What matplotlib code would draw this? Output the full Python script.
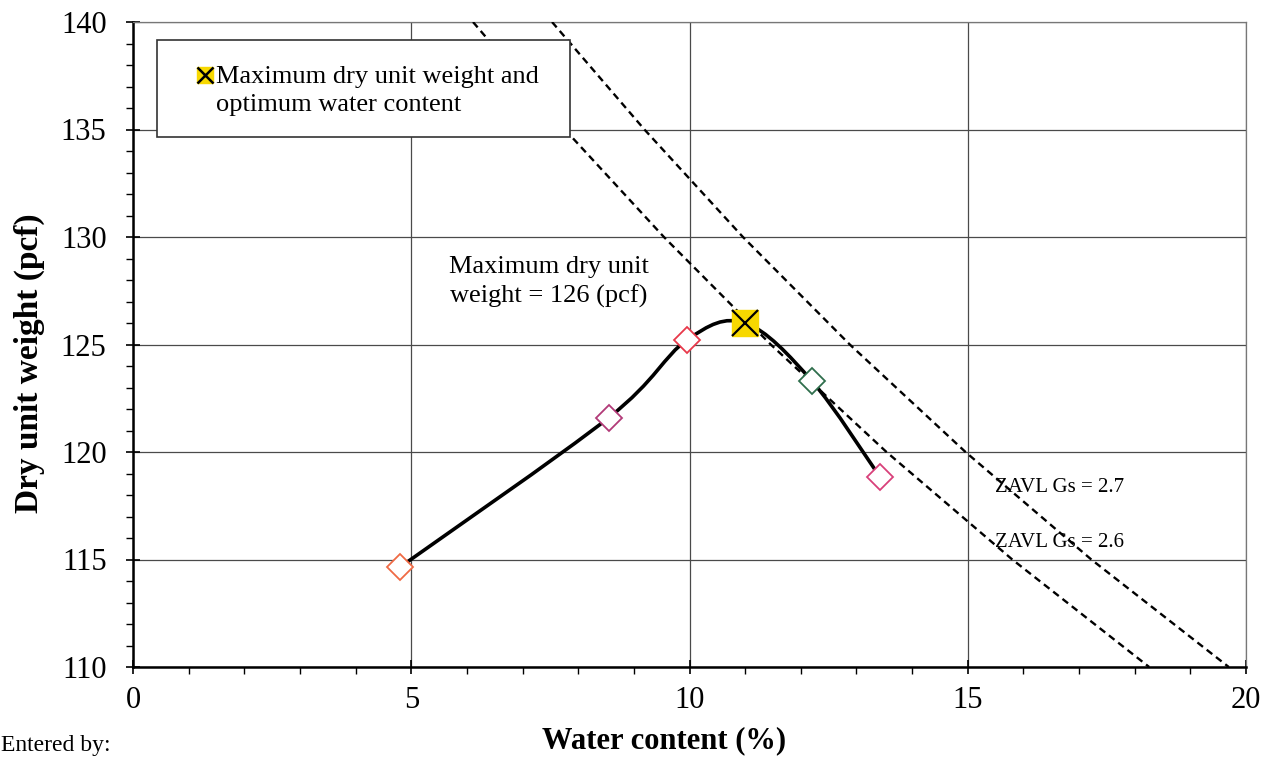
import numpy as np
import matplotlib
matplotlib.use('Agg')
import matplotlib.pyplot as plt
from matplotlib.path import Path
from matplotlib.patches import PathPatch, Rectangle
from matplotlib.ticker import MultipleLocator

plt.rcParams['font.family'] = ['Liberation Serif', 'DejaVu Serif']

# compaction test points (water content %, dry unit weight pcf)
water_content = [4.8, 8.55, 9.95, 12.2, 13.42]
dry_unit_weight = [114.65, 121.6, 125.2, 123.3, 118.85]
point_colors = ['#ef6a45', '#b23a78', '#e8384a', '#2f6e4c', '#d8407a']

# maximum dry unit weight / optimum water content
w_opt = 11.0
gd_max = 126.0

# zero air void lines
zavl_gd = [140, 135, 130, 125, 120, 115, 110]
zavl_w_26 = [6.11, 7.76, 9.54, 11.46, 13.54, 15.80, 18.26]
zavl_w_27 = [7.53, 9.19, 10.96, 12.88, 14.96, 17.22, 19.69]


def smooth_path(xs, ys):
    # Catmull-Rom style bezier, like a spreadsheet "smoothed line"
    pts = np.column_stack([xs, ys])
    n = len(pts)
    verts = [pts[0]]
    codes = [Path.MOVETO]
    for i in range(n - 1):
        p0 = pts[i - 1] if i > 0 else pts[i]
        p1 = pts[i]
        p2 = pts[i + 1]
        p3 = pts[i + 2] if i + 2 < n else pts[i + 1]
        c1 = p1 + (p2 - p0) / 6.0
        c2 = p2 - (p3 - p1) / 6.0
        verts += [c1, c2, p2]
        codes += [Path.CURVE4] * 3
    return Path(verts, codes)


W, H = 1278, 759
fig = plt.figure(figsize=(W / 100, H / 100), dpi=100)
ax = fig.add_axes([133 / W, 1 - 667 / H, (1246 - 133) / W, (667 - 22) / H])

ax.set_xlim(0, 20)
ax.set_ylim(110, 140)
ax.xaxis.set_major_locator(MultipleLocator(5))
ax.xaxis.set_minor_locator(MultipleLocator(1))
ax.yaxis.set_major_locator(MultipleLocator(5))
ax.yaxis.set_minor_locator(MultipleLocator(1))
ax.grid(True, which='major', color='#4a4a4a', linewidth=0.9)
ax.set_axisbelow(True)

for side in ['top', 'right']:
    ax.spines[side].set_color('#777777')
    ax.spines[side].set_linewidth(0.9)
for side in ['left', 'bottom']:
    ax.spines[side].set_linewidth(1.8)

ax.tick_params(which='major', direction='inout', length=10, width=1.2, labelsize=22)
ax.tick_params(axis='y', which='major', pad=14)
ax.tick_params(axis='x', which='major', pad=9)
ax.tick_params(which='minor', direction='out', length=5, width=1.0)
ax.tick_params(top=False, right=False, which='both')

fig.text(664 / W, 1 - 741 / H, 'Water content (%)', fontsize=22, fontweight='bold',
         ha='center', va='center')
fig.text(29 / W, 1 - 363 / H, 'Dry unit weight (pcf)', fontsize=24, fontweight='bold',
         ha='center', va='center', rotation=90)

# ZAVL lines
ax.plot(zavl_w_26, zavl_gd, color='black', linestyle=(0, (3, 2)), linewidth=1.7, zorder=3)
ax.plot(zavl_w_27, zavl_gd, color='black', linestyle=(0, (3, 2)), linewidth=1.7, zorder=3)

# compaction curve through the points and the maximum
curve_x = water_content[:3] + [w_opt] + water_content[3:]
curve_y = dry_unit_weight[:3] + [gd_max] + dry_unit_weight[3:]
ax.add_patch(PathPatch(smooth_path(curve_x, curve_y), facecolor='none',
                       edgecolor='black', linewidth=2.6, zorder=4))

for x, y, c in zip(water_content, dry_unit_weight, point_colors):
    ax.plot(x, y, marker='D', markersize=13, markerfacecolor='white',
            markeredgecolor=c, markeredgewidth=1.3, zorder=5)

ax.plot(w_opt, gd_max, marker='s', markersize=19, markerfacecolor='#f7d800',
        markeredgecolor='#f7d800', zorder=6)
ax.plot(w_opt, gd_max, marker='x', markersize=19, color='black',
        markeredgewidth=1.6, zorder=7)

# legend-like box
box = Rectangle((157 / W, 1 - 137 / H), (570 - 157) / W, (137 - 40) / H,
                transform=fig.transFigure, facecolor='white', edgecolor='#333333',
                linewidth=1.2, zorder=8)
fig.patches.append(box)
fig.lines.append(plt.Line2D([205 / W], [1 - 75 / H], transform=fig.transFigure,
                            marker='s', markersize=11, color='#f7d800', linestyle='none',
                            zorder=9))
fig.lines.append(plt.Line2D([205 / W], [1 - 75 / H], transform=fig.transFigure,
                            marker='x', markersize=11, color='black', markeredgewidth=1.8,
                            linestyle='none', zorder=10))
fig.text(216 / W, 1 - 91 / H, 'Maximum dry unit weight and\noptimum water content',
         fontsize=19, va='center', ha='left', linespacing=1.35, zorder=11)

ax.text(7.47, 127.9, 'Maximum dry unit\nweight = 126 (pcf)', fontsize=19,
        ha='center', va='center', linespacing=1.35, zorder=6)
ax.text(15.49, 118.37, 'ZAVL Gs = 2.7', fontsize=15, ha='left', va='center', zorder=6)
ax.text(15.49, 115.77, 'ZAVL Gs = 2.6', fontsize=15, ha='left', va='center', zorder=6)

fig.text(0.001, 0.004, 'Entered by:', fontsize=17, ha='left', va='bottom')

fig.savefig('out.png', dpi=100)
